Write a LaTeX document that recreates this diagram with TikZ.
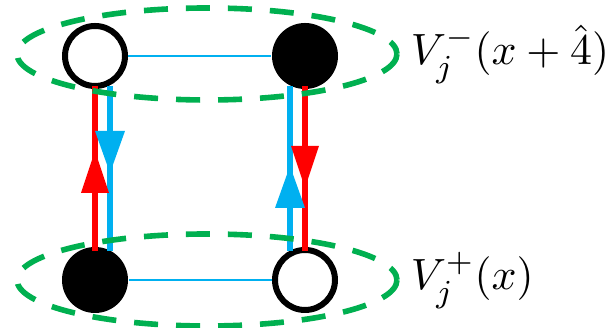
\documentclass[tikz,border=0pt]{standalone}
\usetikzlibrary{calc}
\definecolor{grn}{HTML}{00B050}
\definecolor{cyn}{HTML}{00B0F0}
\definecolor{rd}{HTML}{FF0000}
\begin{document}
\begin{tikzpicture}[x=0.25pt,y=-0.25pt,
  opensite/.style={circle, draw=black, line width=1.5pt, fill=white, minimum size=15pt, inner sep=0pt},
  fullsite/.style={circle, fill=black, minimum size=16.5pt, inner sep=0pt},
  grp/.style={draw=grn, line width=1.4pt, dash pattern=on 6pt off 4.5pt},
  link/.style={draw=cyn, line width=0.5pt},
  redleg/.style={draw=rd, line width=1.5pt},
  blueleg/.style={draw=cyn, line width=1.5pt},
  lbl/.style={anchor=base west, inner sep=0pt, font=\fontsize{11}{13}\selectfont}]
\useasboundingbox (0,0) rectangle (611,328);
% sites
\node[opensite] (tl) at (95,56) {};
\node[fullsite] (tr) at (305,56) {};
\node[fullsite] (bl) at (95,280) {};
\node[opensite] (br) at (305,280) {};
% horizontal links
\draw[link] (tl.east) -- (tr.west);
\draw[link] (bl.east) -- (br.west);
% leg end points
\coordinate (tlr) at (95,86);  \coordinate (blr) at (95,251);
\coordinate (tlb) at (110,86); \coordinate (blb) at (110,251);
\coordinate (trb) at (290,86); \coordinate (brb) at (290,251);
\coordinate (trr) at (305,86); \coordinate (brr) at (305,251);
\draw[redleg] (blr) -- (tlr);
\draw[blueleg] (tlb) -- (blb);
\draw[blueleg] (brb) -- (trb);
\draw[redleg] (trr) -- (brr);
% arrowheads
\fill[rd] (95,151) -- (81,193) -- (109,193) -- cycle;
\fill[cyn] (95,131) -- (125,131) -- (110,173) -- cycle;
\fill[rd] (291,146) -- (319,146) -- (305,188) -- cycle;
\fill[cyn] (290,166) -- (275,208) -- (305,208) -- cycle;
% groups
\draw[grp] (207,54) ellipse [x radius=190, y radius=46];
\draw[grp] (207,280) ellipse [x radius=190, y radius=46];
% labels
\node[lbl] (lt) at (410,65) {$V_j^-(x+\hat{4})$};
\node[lbl] (lb) at (410,290) {$V_j^+(x)$};
\end{tikzpicture}
\end{document}
